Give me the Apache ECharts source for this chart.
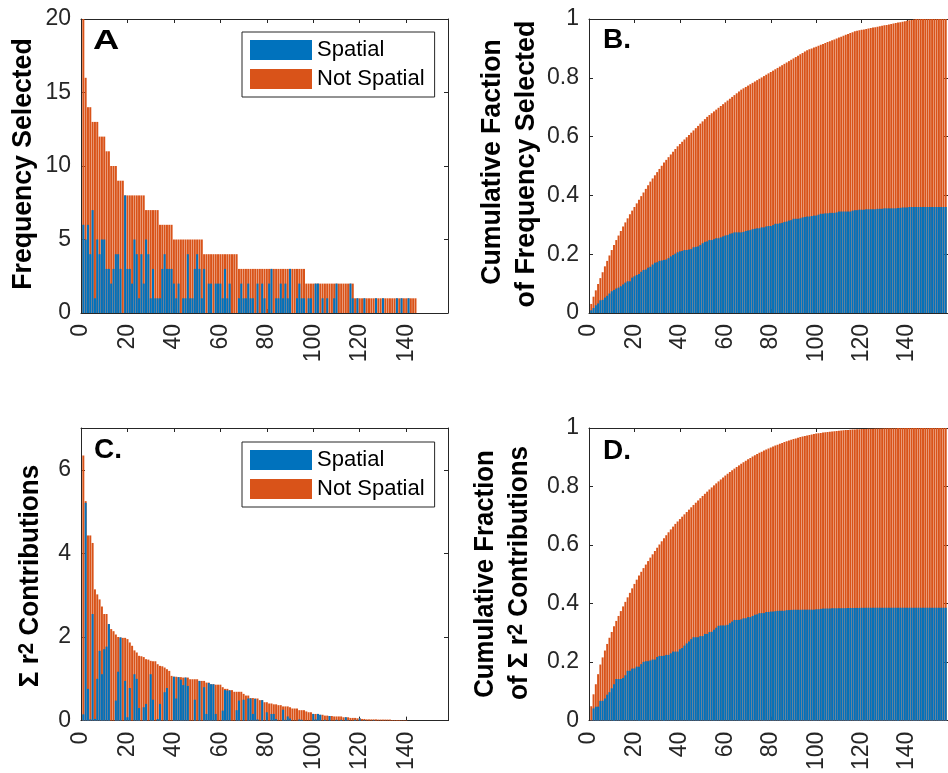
<!DOCTYPE html>
<html>
<head>
<meta charset="utf-8">
<title>Predictor selection</title>
<script src="https://cdn.jsdelivr.net/npm/echarts@6/dist/echarts.min.js"></script>
<style>
  html, body { margin: 0; padding: 0; background: #fff; }
  #container { width: 948px; height: 773px; }
</style>
</head>
<body>
<div id="container"></div>
<script>
// A: how often each predictor was selected (sorted), and how much of that was spatial
var freqTotal = [
  20,16,14,14,13,13,13,12,12,12,
  11,11,10,10,10,9,9,9,8,8,
  8,8,8,8,8,8,8,7,7,7,
  7,7,7,6,6,6,6,6,6,5,
  5,5,5,5,5,5,5,5,5,5,
  5,5,4,4,4,4,4,4,4,4,
  4,4,4,4,4,4,4,3,3,3,
  3,3,3,3,3,3,3,3,3,3,
  3,3,3,3,3,3,3,3,3,3,
  3,3,3,3,3,3,2,2,2,2,
  2,2,2,2,2,2,2,2,2,2,
  2,2,2,2,2,2,2,1,1,1,
  1,1,1,1,1,1,1,1,1,1,
  1,1,1,1,1,1,1,1,1,1,
  1,1,1,1,0,0,0,0,0,0,
  0,0,0,0,0,0,0
];
var freqSpatial = [
  6,5,6,4,7,1,5,4,5,5,
  3,3,2,3,4,4,3,0,8,3,
  3,2,5,4,1,4,2,5,4,1,
  3,1,1,1,3,4,3,3,3,2,
  1,2,0,1,1,4,1,1,3,4,
  3,1,3,0,2,2,0,2,2,2,
  1,3,1,2,0,0,0,1,2,1,
  1,2,1,1,0,2,0,2,1,0,
  2,3,0,1,1,2,1,2,1,3,
  0,0,1,2,1,1,0,1,1,0,
  2,2,0,1,0,1,0,0,1,2,
  0,0,0,0,0,2,1,0,1,0,
  0,1,0,0,0,0,1,0,0,1,
  0,0,0,0,0,1,0,1,0,0,
  1,0,0,0,0,0,0,0,0,0,
  0,0,0,0,0,0,0
];

// C: summed r^2 contributions per predictor, and the spatial part
var r2Total = [
  6.34,5.25,4.43,4.43,4.25,3.14,3.02,2.90,2.73,2.55,
  2.55,2.31,2.19,2.14,2.06,2.00,1.99,1.98,1.98,1.95,
  1.87,1.79,1.68,1.63,1.55,1.54,1.52,1.47,1.46,1.43,
  1.42,1.42,1.35,1.31,1.30,1.27,1.23,1.19,1.07,1.05,
  1.05,1.04,1.04,1.03,1.03,1.03,0.99,0.99,0.99,0.99,
  0.95,0.95,0.95,0.91,0.91,0.87,0.87,0.86,0.86,0.86,
  0.80,0.76,0.76,0.73,0.73,0.69,0.69,0.69,0.69,0.64,
  0.60,0.60,0.54,0.54,0.53,0.53,0.49,0.49,0.44,0.44,
  0.41,0.41,0.39,0.39,0.37,0.37,0.34,0.34,0.34,0.32,
  0.29,0.29,0.29,0.25,0.25,0.25,0.22,0.20,0.20,0.16,
  0.16,0.16,0.14,0.14,0.12,0.12,0.11,0.11,0.10,0.10,
  0.10,0.10,0.08,0.08,0.08,0.065,0.065,0.065,0.055,0.055,
  0.04,0.04,0.03,0.03,0.03,0.03,0.03,0.025,0.025,0.025,
  0.025,0.025,0.025,0.015,0.015,0.015,0.015,0.01,0.01,0.01,
  0,0,0,0,0,0,0,0,0,0,
  0,0,0,0,0,0,0
];
var r2Spatial = [
  0.15,5.21,0.76,0.03,2.55,0.04,1.00,1.67,1.11,1.71,
  1.77,2.31,0,0,0.48,1.17,1.99,0,0.95,0.08,
  0.78,0,1.11,1.00,0.30,0,0.32,0.40,0,1.11,
  0.50,0,0.04,0.40,0,0.68,0.78,0,0,1.05,
  0.53,1.04,0.98,0.85,1.03,0.83,0,0,0.50,0,
  0.95,0,0.80,0.16,0.90,0.87,0.87,0.16,0,0,
  0.24,0.73,0.72,0.72,0,0,0.25,0.48,0,0.50,
  0,0.53,0.53,0.16,0.52,0.03,0,0.49,0,0.20,
  0,0.16,0.16,0.04,0,0,0.26,0.02,0.10,0.05,
  0,0,0,0.03,0.02,0,0,0,0,0.16,
  0.03,0.16,0.14,0,0.02,0,0.11,0,0,0.02,
  0,0.02,0,0.08,0.01,0,0,0.02,0,0.05,
  0,0.01,0,0,0,0.01,0,0,0,0,
  0,0,0,0,0,0,0,0,0,0,
  0,0,0,0,0,0,0,0,0,0,
  0,0,0,0,0,0,0
];

var legendNames = ['Spatial', 'Not Spatial'];

var FONT = '"Liberation Sans", Arial, Helvetica, sans-serif';
var BLUE = '#0072BD', ORANGE = '#D95319', AXIS = '#262626';

// [index, value] pairs, bars sit at 1..N like matlab's bar()
function pairs(vals) {
  return vals.map(function (v, i) { return [i + 1, v]; });
}
// running share of the grand total
function cumShare(vals, total) {
  var s = 0;
  return vals.map(function (v) { s += v; return s / total; });
}
function sum(a) { return a.reduce(function (p, c) { return p + c; }, 0); }

var freqSum = sum(freqTotal), r2Sum = sum(r2Total);

// orange = total drawn first, blue = spatial part drawn over it
var panels = [
  { grid: {left: 81, top: 19, width: 367, height: 294},   ymax: 20, step: 5,   all: freqTotal, sp: freqSpatial },
  { grid: {left: 589, top: 19, width: 367, height: 294},  ymax: 1,  step: 0.2, all: cumShare(freqTotal, freqSum), sp: cumShare(freqSpatial, freqSum) },
  { grid: {left: 81, top: 428, width: 367, height: 294},  ymax: 7,  step: 2,   all: r2Total, sp: r2Spatial },
  { grid: {left: 589, top: 428, width: 367, height: 294}, ymax: 1,  step: 0.2, all: cumShare(r2Total, r2Sum), sp: cumShare(r2Spatial, r2Sum) }
];

function onStep(v, step) {
  var k = v / step;
  return Math.abs(k - Math.round(k)) < 1e-6;
}

var grids = [], xAxes = [], yAxes = [], series = [];
panels.forEach(function (p, g) {
  grids.push(p.grid);
  [false, true].forEach(function (top) {
    xAxes.push({
      type: 'value', gridIndex: g, min: 0, max: 158, interval: 20,
      position: top ? 'top' : 'bottom',
      axisLine: {show: true, onZero: false, lineStyle: {color: AXIS, width: 1}},
      axisTick: {show: true, inside: true, length: 4, lineStyle: {color: AXIS}},
      axisLabel: {
        show: !top, rotate: 90, margin: 11, fontSize: 23, color: AXIS, fontFamily: FONT,
        formatter: function (v) { return onStep(v, 20) ? String(v) : ''; }
      },
      splitLine: {show: false}
    });
    yAxes.push({
      type: 'value', gridIndex: g, min: 0, max: p.ymax, interval: p.step,
      position: top ? 'right' : 'left',
      axisLine: {show: true, onZero: false, lineStyle: {color: AXIS, width: 1}},
      axisTick: {show: true, inside: true, length: 4, lineStyle: {color: AXIS}},
      axisLabel: {
        show: !top, margin: 10, fontSize: 23, color: AXIS, fontFamily: FONT,
        formatter: function (v) { return onStep(v, p.step) ? String(+v.toFixed(2)) : ''; }
      },
      splitLine: {show: false}
    });
  });
  series.push({
    type: 'bar', name: 'Not Spatial', xAxisIndex: 2 * g, yAxisIndex: 2 * g,
    data: pairs(p.all), barWidth: '86%', barGap: '-100%', itemStyle: {color: ORANGE}
  });
  series.push({
    type: 'bar', name: 'Spatial', xAxisIndex: 2 * g, yAxisIndex: 2 * g,
    data: pairs(p.sp), barWidth: '86%', barGap: '-100%', itemStyle: {color: BLUE}
  });
});

function legendAt(top) {
  return {
    data: legendNames, orient: 'vertical', left: 242, top: top,
    icon: 'rect', itemWidth: 62, itemHeight: 20, itemGap: 7,
    padding: [7, 10, 7, 8], borderColor: AXIS, borderWidth: 1, borderRadius: 0,
    backgroundColor: '#fff',
    textStyle: {fontSize: 22, color: '#000', fontFamily: FONT}
  };
}

function letter(txt, x, y, sx) {
  return {
    type: 'text', x: x, y: y, scaleX: sx || 1, z: 10,
    style: {text: txt, fontSize: 28, fontWeight: 'bold', fontFamily: FONT, fill: '#000',
            align: 'left', verticalAlign: 'middle'}
  };
}
function title(txt, x, y, sx) {
  return {
    type: 'text', x: x, y: y, rotation: Math.PI / 2, scaleX: sx, z: 10,
    style: {text: txt, fontSize: 28, fontWeight: 'bold', fontFamily: FONT, fill: '#000',
            align: 'center', verticalAlign: 'middle'}
  };
}
var richR2 = {
  n: {fontSize: 28, fontWeight: 'bold', fontFamily: FONT, fill: '#000', lineHeight: 28, verticalAlign: 'bottom'},
  s: {fontSize: 22, fontWeight: 'bold', fontFamily: FONT, fill: '#000', lineHeight: 22, verticalAlign: 'top', padding: [0, 0, 20, 0]}
};
function r2title(txt, x, y, sx) {
  return {
    type: 'text', x: x, y: y, rotation: Math.PI / 2, scaleX: sx, z: 10,
    style: {text: txt, rich: richR2, align: 'center', verticalAlign: 'middle'}
  };
}

var dom = document.getElementById('container');
var chart = echarts.init(dom, null, {renderer: 'canvas'});
chart.setOption({
  animation: false,
  backgroundColor: '#fff',
  grid: grids,
  xAxis: xAxes,
  yAxis: yAxes,
  legend: [legendAt(32), legendAt(442)],
  series: series,
  graphic: [
    letter('A', 93, 41, 1.3),
    letter('B.', 603, 40),
    letter('C.', 94, 450),
    letter('D.', 603, 451),
    title('Frequency Selected', 23, 164, 0.95),
    title('Cumulative Faction', 492, 162, 0.95),
    title('of Frequency Selected', 526, 164, 0.96),
    r2title('{n|Σ r}{s|2}{n| Contributions}', 30, 576, 0.93),
    title('Cumulative Fraction', 485, 574, 0.92),
    r2title('{n|of Σ r}{s|2}{n| Contributions}', 519, 573, 0.93)
  ]
});
</script>
</body>
</html>
